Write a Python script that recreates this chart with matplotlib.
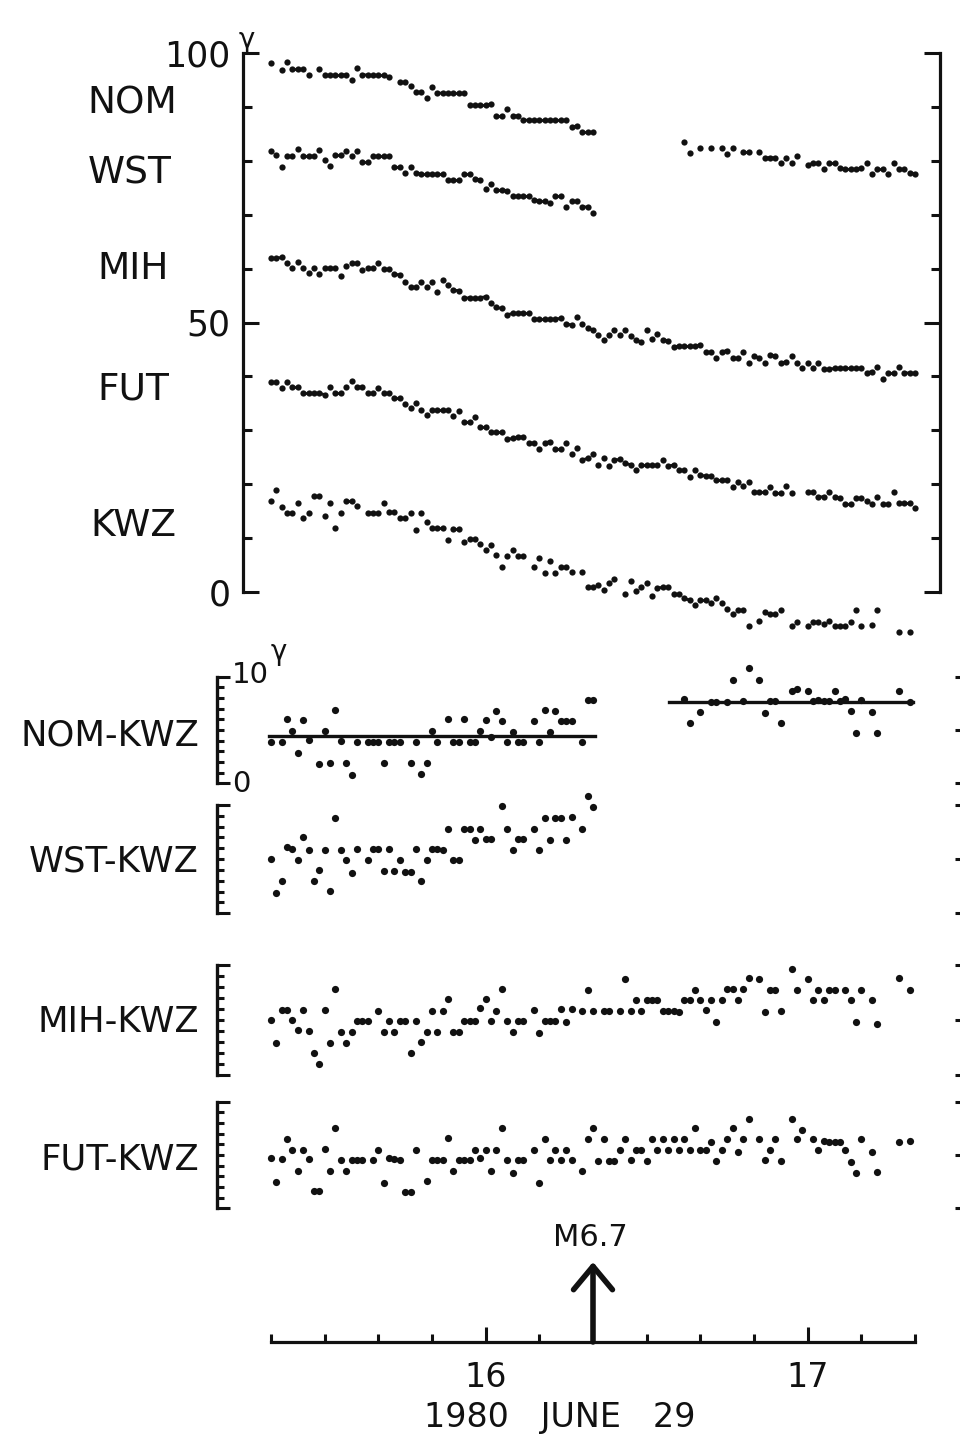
import numpy as np
import matplotlib
matplotlib.use("Agg")
import matplotlib.pyplot as plt
from matplotlib import transforms
from matplotlib.collections import LineCollection

nan = float("nan")

# ---------------- data (1-minute samples, 15:20 .. 17:20, 1980 June 29) ----------------
T_START_H = 15 + 20 / 60.0
N_MIN = 121
EQ_TIME_H = 16 + 20 / 60.0       # M6.7 earthquake
EQ_LABEL = "M6.7"
HOUR_TICKS = [16, 17]
DATE_LABEL = "1980   JUNE   29"

STATIONS = ["NOM", "WST", "MIH", "FUT", "KWZ"]

NOM = [98.1, nan, 96.8, 98.3, 97.0, 97.0, 97.0, 96.0, nan, 97.0,
       96.0, 96.0, 96.0, 96.0, 95.9, 95.0, 97.2, 96.0, 95.9, 95.9,
       95.9, 95.9, 95.6, nan, 94.7, 94.7, 93.8, 92.8, 92.8, 91.6,
       93.6, 92.5, 92.6, 92.6, 92.6, 92.6, 92.6, 90.4, 90.4, 90.4,
       90.4, 90.5, 88.4, 88.4, 89.6, 88.4, 88.3, 87.6, 87.5, 87.5,
       87.5, 87.5, 87.5, 87.5, 87.5, 87.5, 86.3, 86.4, 85.4, 85.4, 85.4,
       nan, nan, nan, nan, nan, nan, nan, nan, nan, nan, nan, nan, nan, nan, nan, nan,
       83.4, 81.4, nan, 82.3, nan, 82.3, nan, 82.3, 81.2, 82.4,
       nan, 81.6, 81.6, nan, 81.6, 80.5, 80.6, 80.5, 79.5, 80.5,
       79.5, 80.8, nan, 79.3, 79.5, 79.5, 78.4, 79.5, 79.5, 78.6,
       78.4, 78.4, 78.4, 78.6, 79.5, 77.6, 78.4, 78.4, 77.6, 79.6,
       78.4, 78.4, 77.7, 77.6]

WST = [81.9, 81.1, 78.9, 80.9, 80.9, 82.1, 80.9, 80.9, 80.8, 82.0,
       80.2, 79.0, 81.1, 81.1, 81.9, 80.8, 81.9, 79.7, 79.7, 80.8,
       80.8, 80.8, 80.8, 78.8, 78.8, 77.8, 78.8, 77.7, 77.6, 77.6,
       77.6, 77.6, 77.6, 76.4, 76.4, 76.4, 77.6, 77.6, 76.6, 76.5,
       74.7, 75.7, 74.6, 74.6, 74.4, 73.5, 73.5, 73.5, 73.5, 72.7,
       72.6, 72.6, 72.2, 73.5, 73.5, 71.5, 72.6, 72.6, 71.5, 71.4, 70.4] + [nan] * 60

MIH = [61.9, 61.9, 62.1, 61.1, 60.1, 61.3, 60.2, 59.1, 60.1, 59.0,
       60.1, 60.1, 60.1, 58.6, 60.4, 61.0, 61.0, 59.7, 60.1, 60.1,
       61.0, 59.9, 59.9, 59.0, 58.8, 57.6, 56.6, 56.6, 57.6, 56.6,
       57.6, 55.7, 57.9, 56.9, 56.0, 55.9, 54.5, 54.6, 54.6, 54.6,
       54.8, 53.6, 52.8, 52.6, 51.4, 51.7, 51.7, 51.8, 51.8, 50.6,
       50.6, 50.6, 50.6, 50.6, 50.8, 49.8, 49.5, 51.0, 49.7, 48.9,
       48.6, 47.7, 46.8, 47.7, 48.6, 47.7, 48.6, 47.5, 46.7, 46.4,
       48.7, 46.9, 47.9, 46.8, 46.6, 45.5, 45.6, 45.6, 45.6, 45.6,
       45.8, 44.6, 44.6, 43.5, 44.6, 44.8, 43.5, 43.5, 44.6, 42.5,
       43.7, 43.5, 42.5, 44.0, 43.8, 42.5, 42.7, 43.7, 42.5, 41.5,
       42.4, 41.5, 42.5, 41.3, 41.3, 41.5, 41.5, 41.5, 41.5, 41.5,
       41.5, 40.7, 40.9, 41.8, 39.6, 40.7, 40.7, 41.8, 40.7, 40.6, 40.6]

FUT = [39.0, 39.0, 37.8, 39.0, 38.1, 38.1, 36.9, 36.9, 36.9, 36.9,
       36.6, 38.1, 37.0, 37.0, 38.1, 39.2, 38.1, 38.0, 37.0, 37.0,
       37.8, 36.9, 36.9, 35.9, 35.9, 34.9, 34.1, 35.0, 33.8, 32.8,
       33.8, 33.8, 33.8, 33.8, 32.7, 33.6, 31.6, 31.6, 32.5, 30.7,
       30.7, 29.6, 29.6, 29.6, 28.3, 28.5, 28.7, 28.8, 27.7, 27.6,
       26.5, 27.7, 27.9, 26.6, 26.6, 27.7, 25.6, 26.8, 24.5, 24.8,
       25.6, 23.6, 24.8, 23.4, 24.5, 24.6, 23.9, 23.6, 22.6, 23.6,
       23.6, 23.6, 23.6, 24.5, 23.3, 23.6, 22.6, 22.6, 21.3, 22.6,
       21.7, 21.5, 21.5, 20.8, 20.8, 20.7, 19.5, 20.5, 19.7, 20.5,
       18.6, 18.6, 18.6, 19.5, 18.4, 18.4, 19.7, 18.4, nan, nan,
       18.6, 18.6, 17.6, 17.7, 18.6, 17.6, 17.4, 16.3, 16.3, 17.4,
       17.4, 16.8, 16.3, 17.6, 16.3, 16.3, 18.6, 16.6, 16.6, 16.6, 15.5]

KWZ = [16.8, 19.0, 15.8, 14.7, 14.7, 16.6, 13.7, 14.6, 17.8, 17.8,
       14.1, 16.6, 11.8, 14.6, 16.9, 16.9, 16.0, nan, 14.6, 14.7,
       14.7, 16.6, 14.9, 14.9, 13.8, 13.8, 14.7, 11.5, 14.7, 12.9,
       11.8, 11.8, 11.8, 9.6, 11.6, 11.6, 9.3, 9.8, 9.8, 8.9,
       7.7, 8.7, 6.9, 4.6, 6.7, 7.7, 6.7, 6.7, nan, 4.7,
       6.4, 3.5, 5.8, 3.5, 4.7, 4.7, 3.8, nan, 3.8, 0.9,
       0.9, 1.3, 0.4, 1.6, 2.5, nan, -0.3, 2.1, 0.2, 1.0,
       1.6, -0.8, 0.7, 0.9, 0.9, -0.4, -0.4, -1.2, -1.5, -2.4,
       -1.4, -1.4, -2.1, -1.2, -2.1, -3.2, -4.1, -3.3, -3.3, -6.3,
       nan, -5.3, -3.8, -4.1, -4.1, -3.3, nan, -6.4, -5.5, nan,
       -6.3, -5.5, -5.5, -6.0, -5.3, -6.3, -6.3, -6.3, -5.5, -3.3,
       -6.3, nan, -6.1, -3.3, nan, nan, nan, -7.5, nan, -7.4, nan]

DIFF_LABELS = ["NOM-KWZ", "WST-KWZ", "MIH-KWZ", "FUT-KWZ"]

NOM_KWZ = [3.9, nan, 3.9, 6.0, 4.9, 2.8, 5.9, 4.1, nan, 1.8,
           4.9, 1.9, 6.9, 4.0, 1.9, 0.8, 3.9, nan, 3.9, 3.9,
           3.9, 1.9, 3.9, 3.9, 3.9, nan, 1.9, 3.9, 0.9, 1.9,
           4.9, 3.9, nan, 6.0, 3.9, 3.9, 6.0, 3.9, 3.9, 4.9,
           5.9, 4.3, 6.8, 5.8, 3.9, 4.8, 3.9, 3.9, nan, 5.8,
           3.9, 6.9, 4.8, 6.8, 5.8, 5.8, 5.8, nan, 3.9, 7.8, 7.8,
           nan, nan, nan, nan, nan, nan, nan, nan, nan, nan, nan, nan, nan, nan, nan, nan,
           7.9, 5.7, nan, 6.7, nan, 7.6, 7.6, nan, 7.6, 9.7,
           nan, 7.7, 10.8, nan, 9.7, 6.6, 7.7, 7.7, 5.7, nan,
           8.7, 8.8, nan, 8.7, 7.7, 7.8, 7.7, 7.7, 8.7, 7.7,
           7.9, 6.8, 4.7, 7.8, nan, 6.7, 4.7, nan, nan, nan,
           8.7, nan, 7.6, nan]
# mean levels drawn through NOM-KWZ before / after the data gap
NOM_KWZ_LEVELS = [4.4, 7.6]
NOM_KWZ_LEVEL_SPANS_H = [(15 + 19.6 / 60, 16 + 20.3 / 60), (16 + 34.2 / 60, 17 + 19.7 / 60)]

WST_KWZ = [5.0, 1.85, 3.0, 6.1, 5.9, 4.9, 7.0, 5.8, 3.0, 4.0,
           5.8, 2.1, 8.8, 5.8, 4.9, 3.75, 5.9, nan, 4.9, 5.9,
           5.9, 3.9, 5.9, 3.9, 4.9, 3.85, 3.85, 5.9, 3.0, 4.9,
           5.9, 5.9, 5.8, 7.8, 4.9, 4.9, 7.8, 7.8, 6.8, 7.8,
           6.9, 6.9, nan, 9.9, 7.75, 5.8, 6.9, 6.9, nan, 7.8,
           5.8, 8.8, 6.8, 8.8, 8.8, 6.8, 8.9, nan, 7.75, 10.8, 9.85] + [nan] * 60

MIH_KWZ = [5.0, 2.9, 5.9, 5.9, 5.0, 4.1, 5.9, 4.0, 2.0, 1.0,
           5.9, 2.9, 7.8, 3.9, 2.9, 3.9, 4.9, 4.9, 4.9, nan,
           5.8, 3.9, 4.9, 3.9, 4.9, 4.9, 2.0, 4.9, 3.0, 3.9,
           5.8, 3.9, 5.8, 6.9, 3.9, 3.9, 4.9, 4.9, 4.9, 6.1,
           6.9, 4.9, 5.8, 7.8, 4.9, 3.9, 4.9, 4.9, nan, 5.9,
           3.8, 4.9, 4.9, 4.9, 6.0, 4.8, 6.0, nan, 5.8, 7.7,
           5.8, nan, 5.8, 5.8, nan, 5.8, 8.7, 5.8, 6.8, 5.8,
           6.8, 6.8, 6.8, 5.8, 5.8, 5.8, 5.7, 6.8, 6.8, 7.7,
           6.8, 5.9, 6.8, 4.8, 6.8, 7.8, 7.8, 6.8, 7.8, 8.8,
           nan, 8.7, 5.7, 7.7, 7.7, 5.8, nan, 9.6, 7.7, nan,
           8.7, 6.8, 7.7, 6.8, 7.7, 7.7, nan, 7.7, 6.8, 4.8,
           7.7, nan, 6.8, 4.6, nan, nan, nan, 8.8, nan, 7.7, nan]

FUT_KWZ = [4.7, 2.5, 4.6, 6.5, 5.5, 3.5, 5.5, 4.6, 1.6, 1.6,
           5.6, 3.5, 7.5, 4.5, 3.5, 4.5, 4.5, 4.5, nan, 4.5,
           5.5, 2.4, 4.7, 4.6, 4.5, 1.5, 1.5, 5.5, nan, 2.6,
           4.5, 4.5, 4.5, 6.6, 3.5, 4.5, 4.5, 4.5, 5.5, 4.7,
           5.5, 3.5, 5.5, 7.5, 4.5, 3.3, 4.5, 4.5, nan, 5.5,
           2.4, 6.5, 4.5, 5.5, 4.5, 5.5, 4.5, nan, 3.5, 6.5,
           7.5, 4.4, 6.5, 4.4, 4.4, 5.5, 6.5, 4.5, 5.5, 5.5,
           4.4, 6.5, 5.5, 6.5, 5.5, 6.5, 5.5, 6.5, 5.5, 7.5,
           5.5, 5.5, 6.25, 4.4, 5.5, 6.5, 7.5, 5.3, 6.5, 8.4,
           nan, 6.5, 4.5, 5.5, 6.5, 4.4, nan, 8.4, 6.5, 7.3,
           nan, 6.5, 5.5, 6.3, 6.2, 6.2, 6.2, 5.5, 4.3, 3.3,
           6.5, nan, 5.3, 3.4, nan, nan, nan, 6.2, nan, 6.3, nan]

TOP_YTICK_LABELS = ["0", "50", "100"]
UNIT = "γ"

# ---------------- layout helpers (pixel geometry of the reference) ----------------
W, H = 960, 1441
INK = "#111111"
time_h = T_START_H + np.arange(N_MIN) / 60.0

PX_T0, PX_T1 = 271.0, 915.0   # pixel x of 15:20 and 17:20


def px_to_t(px):
    return T_START_H + (px - PX_T0) / (PX_T1 - PX_T0) * 2.0


def pt(px):
    return px * 72.0 / 100.0


fig = plt.figure(figsize=(W / 100, H / 100), dpi=100)
fig.patch.set_facecolor("white")


def add_axes_px(x0, x1, ytop, ybot):
    ax = fig.add_axes([x0 / W, 1 - ybot / H, (x1 - x0) / W, (ybot - ytop) / H])
    ax.set_xlim(px_to_t(x0), px_to_t(x1))
    ax.patch.set_alpha(0)
    return ax


def plot_series(ax, y, ms, seg_lw):
    y = np.asarray(y, float)
    ax.plot(time_h, y, "o", ms=ms, color=INK, mec="none", clip_on=False, zorder=3)
    segs = []
    for k in range(len(y) - 1):
        if np.isfinite(y[k]) and np.isfinite(y[k + 1]) and abs(y[k + 1] - y[k]) < 0.35:
            segs.append([(time_h[k], y[k]), (time_h[k + 1], y[k + 1])])
    if segs:
        ax.add_collection(LineCollection(segs, colors=INK, linewidths=seg_lw, zorder=3, clip_on=False))


# ---------------- top panel ----------------
ax = add_axes_px(243, 940, 53, 592)
ax.set_ylim(0, 100)
for s in ["top", "bottom"]:
    ax.spines[s].set_visible(False)
for s in ["left", "right"]:
    ax.spines[s].set_linewidth(2.3)
    ax.spines[s].set_color(INK)
ax.set_xticks([])
ax.set_yticks([0, 50, 100])
ax.set_yticklabels(TOP_YTICK_LABELS)
ax.set_yticks([v for v in range(10, 100, 10) if v != 50], minor=True)
ax.tick_params(axis="y", which="both", direction="in", left=True, right=True,
               width=2.2, color=INK, labelsize=25, labelcolor=INK, pad=9)
ax.tick_params(axis="y", which="major", length=pt(16))
ax.tick_params(axis="y", which="minor", length=pt(9))

for series in [NOM, WST, MIH, FUT, KWZ]:
    plot_series(ax, series, 4.5, 2.0)

fig.text(247 / W, 1 - 40 / H, UNIT, fontsize=20, color=INK, ha="center", va="center")

label_pos = {"NOM": (132, 103), "WST": (130, 174), "MIH": (133, 269),
             "FUT": (133, 390), "KWZ": (133, 526)}
for name in STATIONS:
    x, y = label_pos[name]
    fig.text(x / W, 1 - y / H, name, fontsize=27, color=INK, ha="center", va="center")

# ---------------- difference panels ----------------
diff_data = [NOM_KWZ, WST_KWZ, MIH_KWZ, FUT_KWZ]
diff_box = [(676.7, 783.3), (805.0, 913.3), (965.0, 1075.0), (1101.7, 1208.3)]
diff_label_y = [735, 861, 1022, 1160]

for k, (vals, (yt, yb)) in enumerate(zip(diff_data, diff_box)):
    a = add_axes_px(217, 962, yt, yb)
    a.set_ylim(0, 10)
    for s in ["top", "bottom", "right"]:
        a.spines[s].set_visible(False)
    a.spines["left"].set_linewidth(2.4)
    a.spines["left"].set_color(INK)
    a.set_xticks([])
    a.set_yticks([0, 10])
    a.set_yticklabels([])
    a.set_yticks(list(range(1, 10)), minor=True)
    a.tick_params(axis="y", which="both", direction="in", left=True, right=False,
                  width=2.2, color=INK)
    a.tick_params(axis="y", which="major", length=pt(13))
    a.tick_params(axis="y", which="minor", length=pt(7))
    # right-hand bracket (cut by the page edge)
    ar = a.twinx()
    ar.set_ylim(0, 10)
    for s in ["top", "bottom", "left", "right"]:
        ar.spines[s].set_visible(False)
    ar.set_yticks([0, 5, 10])
    ar.set_yticklabels([])
    ar.tick_params(axis="y", direction="in", length=pt(7), width=2.2, color=INK)

    plot_series(a, vals, 5.2, 2.2)

    if k == 0:
        for lev, (t0, t1) in zip(NOM_KWZ_LEVELS, NOM_KWZ_LEVEL_SPANS_H):
            a.plot([t0, t1], [lev, lev], "-", color=INK, lw=2.4, clip_on=False, zorder=2)
        bt = transforms.blended_transform_factory(a.transAxes, a.transData)
        xf = (232 - 217) / (962 - 217)
        a.text(xf, 10.2, "10", transform=bt, fontsize=21, color=INK, ha="left", va="center")
        a.text(xf, -0.1, "0", transform=bt, fontsize=21, color=INK, ha="left", va="center")
        fig.text(279 / W, 1 - 652 / H, UNIT, fontsize=20, color=INK, ha="center", va="center")

    fig.text(199 / W, 1 - diff_label_y[k] / H, DIFF_LABELS[k], fontsize=25.5,
             color=INK, ha="right", va="center")

# ---------------- time axis ----------------
axt = add_axes_px(243, 940, 1220, 1342)
axt.set_ylim(0, 1)
for s in ["top", "left", "right"]:
    axt.spines[s].set_visible(False)
axt.spines["bottom"].set_linewidth(2.3)
axt.spines["bottom"].set_color(INK)
axt.spines["bottom"].set_bounds(T_START_H, T_START_H + 2.0)
axt.set_yticks([])
axt.set_xticks(HOUR_TICKS)
axt.set_xticklabels([str(h) for h in HOUR_TICKS])
minor = [T_START_H + m / 60.0 for m in range(0, 121, 10)]
minor = [m for m in minor if all(abs(m - h) > 1e-6 for h in HOUR_TICKS)]
axt.set_xticks(minor, minor=True)
axt.tick_params(axis="x", which="both", direction="in", width=2.2, color=INK,
                labelsize=24, labelcolor=INK, pad=14)
axt.tick_params(axis="x", which="major", length=pt(15))
axt.tick_params(axis="x", which="minor", length=pt(8))

y_arrow_top = (1342 - 1262) / (1342 - 1220)
axt.annotate("", xy=(EQ_TIME_H, y_arrow_top), xytext=(EQ_TIME_H, 0),
             arrowprops=dict(arrowstyle="->,head_length=0.6,head_width=0.5",
                             lw=4.0, color=INK, shrinkA=0, shrinkB=0,
                             mutation_scale=28))
axt.text(px_to_t(590), (1342 - 1237) / (1342 - 1220), EQ_LABEL, fontsize=22,
         color=INK, ha="center", va="center")

fig.text(560 / W, 1 - 1418 / H, DATE_LABEL, fontsize=24, color=INK,
         ha="center", va="center")

fig.savefig("out.png", dpi=100, facecolor="white")
